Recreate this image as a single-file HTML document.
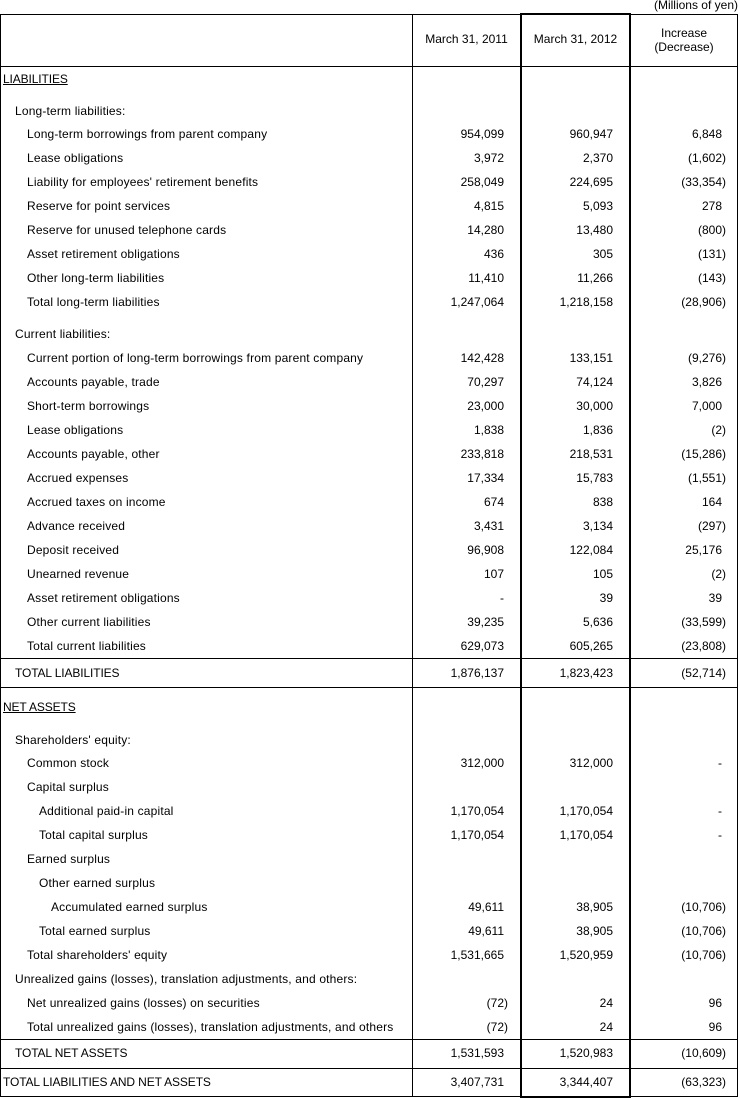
<!DOCTYPE html>
<html>
<head>
<meta charset="utf-8">
<style>
html,body{margin:0;padding:0;background:#fff;}
#c{position:relative;width:740px;height:1098px;overflow:hidden;background:#fff;font-family:"Liberation Sans",Arial,sans-serif;font-size:12px;color:#000;}
.r{position:absolute;left:0;width:740px;height:24px;line-height:24px;white-space:nowrap;}
.r span{position:absolute;top:0;}
.r span.t{letter-spacing:0.17px;}
.r span.k{letter-spacing:-0.12px;}
.a{right:232px;}
.b{right:123px;}
.d{right:14px;}
.p{padding-right:4px;}
.u{text-decoration:underline;}
.h{position:absolute;background:#000;height:1px;left:0;width:738px;}
.v{position:absolute;background:#000;width:1px;}
</style>
</head>
<body>
<div id="c">
<div class="h" style="top:14px"></div>
<div class="h" style="top:66px"></div>
<div class="h" style="top:658px"></div>
<div class="h" style="top:687px"></div>
<div class="h" style="top:1039px"></div>
<div class="h" style="top:1068px"></div>
<div class="h" style="top:1096px"></div>
<div class="v" style="left:0;top:14px;height:1083px"></div>
<div class="v" style="left:412px;top:14px;height:1083px"></div>
<div class="v" style="left:737px;top:14px;height:1083px"></div>
<div class="v" style="left:520px;top:13px;height:1085px;width:2px"></div>
<div class="v" style="left:629px;top:13px;height:1085px;width:2px"></div>
<div class="h" style="left:520px;width:111px;top:13px;height:2px"></div>
<div class="h" style="left:520px;width:111px;top:1096px;height:2px"></div>

<div style="position:absolute;right:2px;top:-2px;line-height:14px;">(Millions of yen)</div>
<div style="position:absolute;left:413px;width:107px;top:27px;line-height:24px;text-align:center;">March 31, 2011</div>
<div style="position:absolute;left:522px;width:107px;top:27px;line-height:24px;text-align:center;">March 31, 2012</div>
<div style="position:absolute;left:631px;width:106px;top:25.5px;line-height:14px;text-align:center;">Increase<br>(Decrease)</div>

<div class="r" style="top:67px"><span class="u k" style="left:3px">LIABILITIES</span></div>
<div class="r" style="top:99px"><span class="t" style="left:15px">Long-term liabilities:</span></div>
<div class="r" style="top:122px"><span class="t" style="left:27px">Long-term borrowings from parent company</span><span class="a p">954,099</span><span class="b p">960,947</span><span class="d p">6,848</span></div>
<div class="r" style="top:146px"><span class="t" style="left:27px">Lease obligations</span><span class="a p">3,972</span><span class="b p">2,370</span><span class="d">(1,602)</span></div>
<div class="r" style="top:170px"><span class="t" style="left:27px">Liability for employees' retirement benefits</span><span class="a p">258,049</span><span class="b p">224,695</span><span class="d">(33,354)</span></div>
<div class="r" style="top:194px"><span class="t" style="left:27px">Reserve for point services</span><span class="a p">4,815</span><span class="b p">5,093</span><span class="d p">278</span></div>
<div class="r" style="top:218px"><span class="t" style="left:27px">Reserve for unused telephone cards</span><span class="a p">14,280</span><span class="b p">13,480</span><span class="d">(800)</span></div>
<div class="r" style="top:242px"><span class="t" style="left:27px">Asset retirement obligations</span><span class="a p">436</span><span class="b p">305</span><span class="d">(131)</span></div>
<div class="r" style="top:266px"><span class="t" style="left:27px">Other long-term liabilities</span><span class="a p">11,410</span><span class="b p">11,266</span><span class="d">(143)</span></div>
<div class="r" style="top:290px"><span class="t" style="left:27px">Total long-term liabilities</span><span class="a p">1,247,064</span><span class="b p">1,218,158</span><span class="d">(28,906)</span></div>

<div class="r" style="top:322px"><span class="t" style="left:15px">Current liabilities:</span></div>
<div class="r" style="top:346px"><span class="t" style="left:27px">Current portion of long-term borrowings from parent company</span><span class="a p">142,428</span><span class="b p">133,151</span><span class="d">(9,276)</span></div>
<div class="r" style="top:370px"><span class="t" style="left:27px">Accounts payable, trade</span><span class="a p">70,297</span><span class="b p">74,124</span><span class="d p">3,826</span></div>
<div class="r" style="top:394px"><span class="t" style="left:27px">Short-term borrowings</span><span class="a p">23,000</span><span class="b p">30,000</span><span class="d p">7,000</span></div>
<div class="r" style="top:418px"><span class="t" style="left:27px">Lease obligations</span><span class="a p">1,838</span><span class="b p">1,836</span><span class="d">(2)</span></div>
<div class="r" style="top:442px"><span class="t" style="left:27px">Accounts payable, other</span><span class="a p">233,818</span><span class="b p">218,531</span><span class="d">(15,286)</span></div>
<div class="r" style="top:466px"><span class="t" style="left:27px">Accrued expenses</span><span class="a p">17,334</span><span class="b p">15,783</span><span class="d">(1,551)</span></div>
<div class="r" style="top:490px"><span class="t" style="left:27px">Accrued taxes on income</span><span class="a p">674</span><span class="b p">838</span><span class="d p">164</span></div>
<div class="r" style="top:514px"><span class="t" style="left:27px">Advance received</span><span class="a p">3,431</span><span class="b p">3,134</span><span class="d">(297)</span></div>
<div class="r" style="top:538px"><span class="t" style="left:27px">Deposit received</span><span class="a p">96,908</span><span class="b p">122,084</span><span class="d p">25,176</span></div>
<div class="r" style="top:562px"><span class="t" style="left:27px">Unearned revenue</span><span class="a p">107</span><span class="b p">105</span><span class="d">(2)</span></div>
<div class="r" style="top:586px"><span class="t" style="left:27px">Asset retirement obligations</span><span class="a p">-</span><span class="b p">39</span><span class="d p">39</span></div>
<div class="r" style="top:610px"><span class="t" style="left:27px">Other current liabilities</span><span class="a p">39,235</span><span class="b p">5,636</span><span class="d">(33,599)</span></div>
<div class="r" style="top:634px"><span class="t" style="left:27px">Total current liabilities</span><span class="a p">629,073</span><span class="b p">605,265</span><span class="d">(23,808)</span></div>

<div class="r" style="top:661px"><span class="k" style="left:15px">TOTAL LIABILITIES</span><span class="a p">1,876,137</span><span class="b p">1,823,423</span><span class="d">(52,714)</span></div>

<div class="r" style="top:695px"><span class="u k" style="left:3px">NET ASSETS</span></div>
<div class="r" style="top:728px"><span class="t" style="left:15px">Shareholders' equity:</span></div>
<div class="r" style="top:751px"><span class="t" style="left:27px">Common stock</span><span class="a p">312,000</span><span class="b p">312,000</span><span class="d p">-</span></div>
<div class="r" style="top:775px"><span class="t" style="left:27px">Capital surplus</span></div>
<div class="r" style="top:799px"><span class="t" style="left:39px">Additional paid-in capital</span><span class="a p">1,170,054</span><span class="b p">1,170,054</span><span class="d p">-</span></div>
<div class="r" style="top:823px"><span class="t" style="left:39px">Total capital surplus</span><span class="a p">1,170,054</span><span class="b p">1,170,054</span><span class="d p">-</span></div>
<div class="r" style="top:847px"><span class="t" style="left:27px">Earned surplus</span></div>
<div class="r" style="top:871px"><span class="t" style="left:39px">Other earned surplus</span></div>
<div class="r" style="top:895px"><span class="t" style="left:51px">Accumulated earned surplus</span><span class="a p">49,611</span><span class="b p">38,905</span><span class="d">(10,706)</span></div>
<div class="r" style="top:919px"><span class="t" style="left:39px">Total earned surplus</span><span class="a p">49,611</span><span class="b p">38,905</span><span class="d">(10,706)</span></div>
<div class="r" style="top:943px"><span class="t" style="left:27px">Total shareholders' equity</span><span class="a p">1,531,665</span><span class="b p">1,520,959</span><span class="d">(10,706)</span></div>
<div class="r" style="top:967px"><span class="t" style="left:15px">Unrealized gains (losses), translation adjustments, and others:</span></div>
<div class="r" style="top:991px"><span class="t" style="left:27px">Net unrealized gains (losses) on securities</span><span class="a">(72)</span><span class="b p">24</span><span class="d p">96</span></div>
<div class="r" style="top:1015px"><span class="t" style="left:27px">Total unrealized gains (losses), translation adjustments, and others</span><span class="a">(72)</span><span class="b p">24</span><span class="d p">96</span></div>

<div class="r" style="top:1041px"><span class="k" style="left:15px">TOTAL NET ASSETS</span><span class="a p">1,531,593</span><span class="b p">1,520,983</span><span class="d">(10,609)</span></div>
<div class="r" style="top:1070px"><span class="k" style="left:3px">TOTAL LIABILITIES AND NET ASSETS</span><span class="a p">3,407,731</span><span class="b p">3,344,407</span><span class="d">(63,323)</span></div>
</div>
</body>
</html>
